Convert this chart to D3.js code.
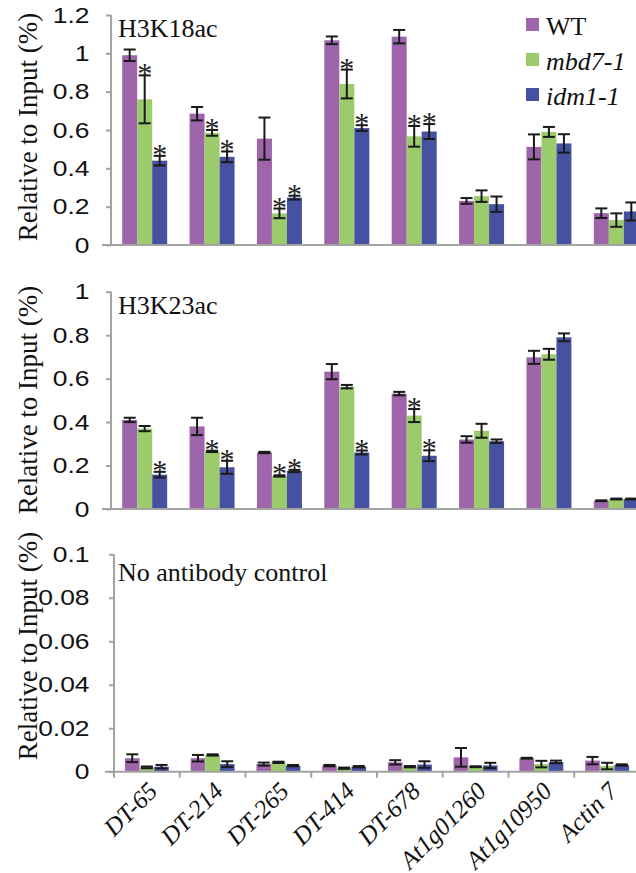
<!DOCTYPE html>
<html><head><meta charset="utf-8">
<script src="https://cdn.jsdelivr.net/npm/d3@7"></script>
<style>body{margin:0;background:#fff} svg{display:block}</style>
</head><body><svg id="chart" width="636" height="873"></svg>
<script>
const categories = ["DT-65","DT-214","DT-265","DT-414","DT-678","At1g01260","At1g10950","Actin 7"];
const seriesNames = ["WT","mbd7-1","idm1-1"];
const seriesColors = ["#9E65AB","#9BCB6A","#4652A1"];

// Panel 1: H3K18ac
const k18WT = [0.99,0.685,0.555,1.068,1.087,0.23,0.512,0.166];
const k18WTerr = [0.03,0.035,0.11,0.02,0.035,0.015,0.065,0.025];
const k18mbd7 = [0.76,0.585,0.165,0.84,0.567,0.255,0.59,0.13];
const k18mbd7err = [0.125,0.015,0.025,0.075,0.054,0.03,0.026,0.035];
const k18idm1 = [0.44,0.46,0.247,0.61,0.592,0.213,0.53,0.175];
const k18idm1err = [0.025,0.028,0.01,0.015,0.039,0.04,0.048,0.047];
const k18sigmbd7 = [1,1,1,1,1,0,0,0];
const k18sigidm1 = [1,1,1,1,1,0,0,0];
const k18ticks = [0,0.2,0.4,0.6,0.8,1,1.2];

// Panel 2: H3K23ac
const k23WT = [0.41,0.38,0.26,0.632,0.531,0.32,0.698,0.038];
const k23WTerr = [0.01,0.04,0.003,0.035,0.008,0.015,0.03,0.002];
const k23mbd7 = [0.37,0.265,0.152,0.563,0.43,0.36,0.712,0.046];
const k23mbd7err = [0.012,0.003,0.003,0.008,0.03,0.032,0.025,0.002];
const k23idm1 = [0.158,0.192,0.175,0.26,0.245,0.312,0.79,0.046];
const k23idm1err = [0.013,0.03,0.005,0.009,0.025,0.008,0.018,0.002];
const k23sigmbd7 = [0,1,1,0,1,0,0,0];
const k23sigidm1 = [1,1,1,1,1,0,0,0];
const k23ticks = [0,0.2,0.4,0.6,0.8,1];

// Panel 3: No antibody control
const noWT = [0.0062,0.0062,0.0035,0.0028,0.0043,0.0066,0.0062,0.0051];
const noWTerr = [0.0018,0.0015,0.0007,0.0003,0.001,0.0043,0.0002,0.0017];
const nombd7 = [0.002,0.0077,0.0043,0.0016,0.0023,0.0023,0.0035,0.0026];
const nombd7err = [0.0004,0.0003,0.0003,0.0003,0.0003,0.0002,0.0015,0.0015];
const noidm1 = [0.0023,0.0035,0.0028,0.0023,0.0033,0.0029,0.0045,0.0031];
const noidm1err = [0.0008,0.0013,0.0003,0.0003,0.0015,0.0012,0.0006,0.0003];
const noticks = [0,0.02,0.04,0.06,0.08,0.1];

const yTitle = "Relative to Input (%)";

const svg = d3.select("#chart");
const AXIS = "#A3A3A3";
const SERIF = "'Liberation Serif','Times New Roman',serif";
const SANS = "'Liberation Sans',Arial,sans-serif";

const panels = [
  {label:"H3K18ac", vals:[k18WT,k18mbd7,k18idm1], errs:[k18WTerr,k18mbd7err,k18idm1err],
   sig:[null,k18sigmbd7,k18sigidm1], ticks:k18ticks, dom:[0,1.2], yr:[245,15], xr:[111,650],
   titleY:127, labelY:37, xAxisLeft:102, showCats:false},
  {label:"H3K23ac", vals:[k23WT,k23mbd7,k23idm1], errs:[k23WTerr,k23mbd7err,k23idm1err],
   sig:[null,k23sigmbd7,k23sigidm1], ticks:k23ticks, dom:[0,1], yr:[509,291.7], xr:[111,650],
   titleY:400, labelY:314, xAxisLeft:102, showCats:false},
  {label:"No antibody control", vals:[noWT,nombd7,noidm1], errs:[noWTerr,nombd7err,noidm1err],
   sig:[null,null,null], ticks:noticks, dom:[0,0.1], yr:[771.7,554.3], xr:[114,640],
   titleY:646, labelY:581, xAxisLeft:105, showCats:true}
];

panels.forEach(p => {
  const g = svg.append("g");
  const y = d3.scaleLinear().domain(p.dom).range(p.yr);
  const x0 = d3.scaleBand().domain(categories).range(p.xr).paddingInner(0.332).paddingOuter(0.166);
  const x1 = d3.scaleBand().domain(seriesNames).range([0, x0.bandwidth()]);
  const base = y(0);
  const axisX = p.xr[0];

  seriesNames.forEach((s, si) => {
    const rows = categories.map((c, ci) => ({c, v:p.vals[si][ci], e:p.errs[si][ci], sig:p.sig[si] ? p.sig[si][ci] : 0}));
    g.append("g").selectAll("rect").data(rows).join("rect")
      .attr("x", d => x0(d.c) + x1(s))
      .attr("y", d => y(d.v))
      .attr("width", x1.bandwidth())
      .attr("height", d => base - y(d.v))
      .attr("fill", seriesColors[si]);
    const eg = g.append("g").attr("stroke", "#1a1a1a").attr("stroke-width", 2);
    rows.forEach(d => {
      const cx = x0(d.c) + x1(s) + x1.bandwidth()/2;
      const hw = 6;
      const yt = y(d.v + d.e), yb = y(Math.max(0, d.v - d.e));
      eg.append("line").attr("x1", cx).attr("x2", cx).attr("y1", yt).attr("y2", yb);
      eg.append("line").attr("x1", cx-hw).attr("x2", cx+hw).attr("y1", yt).attr("y2", yt);
      eg.append("line").attr("x1", cx-hw).attr("x2", cx+hw).attr("y1", yb).attr("y2", yb);
      if (d.sig) {
        g.append("text").attr("x", cx).attr("y", yt + 8)
          .attr("text-anchor", "middle").attr("font-family", SERIF)
          .attr("font-size", 30).attr("fill", "#222").text("*");
      }
    });
  });

  const yAxis = d3.axisLeft(y).tickValues(p.ticks).tickSize(5).tickPadding(0)
    .tickFormat(d => d3.format("~g")(d));
  const ya = g.append("g").attr("transform", `translate(${axisX},0)`).call(yAxis);
  ya.select(".domain").attr("stroke", AXIS).attr("stroke-width", 2).attr("d", `M0,${base}V${p.yr[1]}`);
  ya.selectAll(".tick line").attr("stroke", AXIS).attr("stroke-width", 2);
  ya.selectAll(".tick text").attr("font-family", SANS).attr("font-size", 22).attr("fill", "#111")
    .attr("x", 0).attr("transform", `translate(${89.5 - axisX},0) scale(1.2,1)`);

  g.append("line").attr("x1", p.xAxisLeft).attr("x2", p.xr[1]).attr("y1", base).attr("y2", base)
    .attr("stroke", AXIS).attr("stroke-width", 2);

  if (p.showCats) {
    const half = (x0.step() - x0.bandwidth())/2;
    const bounds = categories.map(c => x0(c) - half).concat([p.xr[1]]);
    g.append("g").selectAll("line").data(bounds).join("line")
      .attr("x1", d => d).attr("x2", d => d).attr("y1", base).attr("y2", base + 6)
      .attr("stroke", AXIS).attr("stroke-width", 2);
    g.append("g").selectAll("text").data(categories).join("text")
      .attr("transform", c => `translate(${x0(c) + x0.bandwidth()/2 + 12},${base + 21}) rotate(-45)`)
      .attr("text-anchor", "end").attr("font-family", SERIF).attr("font-style", "italic")
      .attr("font-size", 25).attr("fill", "#111").text(c => c);
  }

  g.append("text").attr("transform", `translate(37,${p.titleY}) rotate(-90)`)
    .attr("text-anchor", "middle").attr("font-family", SERIF).attr("font-size", 27)
    .attr("fill", "#111").text(yTitle);

  g.append("text").attr("x", 118).attr("y", p.labelY).attr("font-family", SERIF)
    .attr("font-size", 26).attr("fill", "#111").text(p.label);
});

const legend = svg.append("g").attr("transform", "translate(526,18)");
seriesNames.forEach((s, i) => {
  const lg = legend.append("g").attr("transform", `translate(0,${i*35})`);
  lg.append("rect").attr("width", 13).attr("height", 13).attr("fill", seriesColors[i]);
  lg.append("text").attr("x", 20).attr("y", 17).attr("font-family", SERIF)
    .attr("font-style", i === 0 ? "normal" : "italic").attr("font-size", 26)
    .attr("fill", "#111").text(s);
});
</script></body></html>
